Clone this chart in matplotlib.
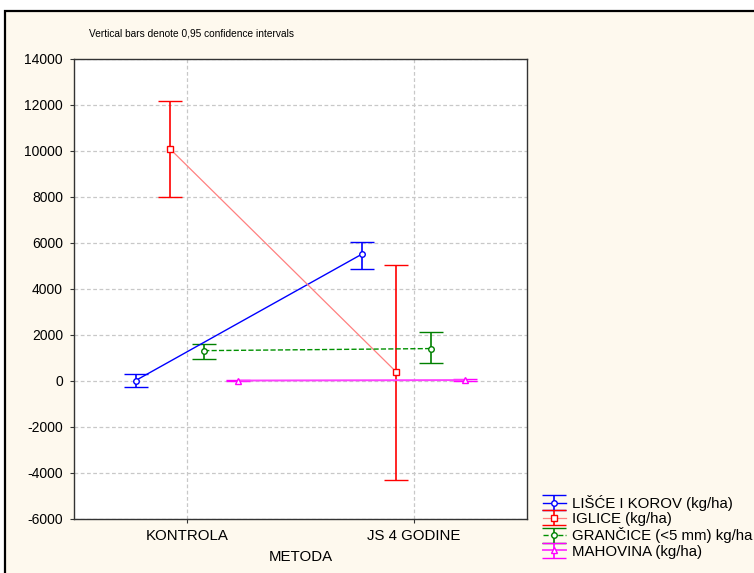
import numpy as np
import matplotlib
matplotlib.use("Agg")
import matplotlib.pyplot as plt
from matplotlib.patches import Rectangle

plt.rcParams['font.family'] = ['Liberation Sans', 'DejaVu Sans']

# ---------------- data ----------------
categories = ["KONTROLA", "JS 4 GODINE"]
series = ["LIŠĆE I KOROV (kg/ha)", "IGLICE (kg/ha)",
          "GRANČICE (<5 mm) kg/ha", "MAHOVINA (kg/ha)"]

lisce_mean = [20, 5520]
lisce_lo   = [-270, 4860]
lisce_hi   = [290, 6040]

iglice_mean = [10100, 390]
iglice_lo   = [8010, -4300]
iglice_hi   = [12190, 5060]

grancice_mean = [1320, 1410]
grancice_lo   = [970, 780]
grancice_hi   = [1600, 2130]

mahovina_mean = [20, 40]
mahovina_lo   = [-20, 0]
mahovina_hi   = [60, 80]

yticks = list(range(-6000, 14001, 2000))

# ---------------- styles ----------------
styles = [
    dict(color="#0000ff", line="#0000ff", ls="-",  marker="o", lw=1.0),
    dict(color="#ff0000", line="#ff8080", ls="-",  marker="s", lw=0.9),
    dict(color="#008000", line="#009000", ls="--", marker="o", lw=1.0),
    dict(color="#ff00ff", line="#ff40ff", ls="-",  marker="^", lw=1.4),
]
offsets = [-0.228, -0.077, 0.075, 0.226]
means = [lisce_mean, iglice_mean, grancice_mean, mahovina_mean]
los = [lisce_lo, iglice_lo, grancice_lo, mahovina_lo]
his = [lisce_hi, iglice_hi, grancice_hi, mahovina_hi]

fig = plt.figure(figsize=(7.54, 5.73), dpi=100)
fig.patch.set_facecolor("white")
W, H = 754, 573
frame = Rectangle((5 / W, -0.05), 1.1, 1.05 - 11 / H,
                  transform=fig.transFigure, facecolor="#fef9ee",
                  edgecolor="black", linewidth=1.6, zorder=-10)
fig.patches.append(frame)

ax = fig.add_axes([74 / W, 1 - 519 / H, (527 - 74) / W, (519 - 59) / H])
ax.set_zorder(1)
ax.set_facecolor("white")

xpos = np.arange(len(categories))
for name, st, off, m, lo, hi in zip(series, styles, offsets, means, los, his):
    m = np.array(m, dtype=float)
    yerr = [m - np.array(lo), np.array(hi) - m]
    ax.errorbar(xpos + off, m, yerr=yerr, color=st["line"], ecolor=st["color"],
                linestyle=st["ls"], linewidth=st["lw"], elinewidth=1.2,
                marker=st["marker"], markersize=4, markerfacecolor="white",
                markeredgecolor=st["color"], markeredgewidth=1.0,
                capsize=8.3, capthick=1.2, label=name, zorder=3)

ax.set_xlim(-0.5, 1.5)
ax.set_ylim(-6000, 14000)
ax.set_xticks(xpos)
ax.set_xticklabels(categories, fontsize=10.8)
ax.set_yticks(yticks)
ax.set_yticklabels([str(v) for v in yticks], fontsize=10)
ax.tick_params(axis="both", length=3, width=0.8, color="#333333", pad=5)
ax.tick_params(axis="x", pad=4)
ax.grid(True, color="#c8c8c8", linestyle=(0, (3, 2)), linewidth=0.9)
ax.set_axisbelow(True)
for s in ax.spines.values():
    s.set_color("#333333")
    s.set_linewidth(1.0)
ax.set_xlabel("METODA", fontsize=10.8, labelpad=5)

fig.text(89 / W, 1 - 33 / H, "Vertical bars denote 0,95 confidence intervals",
         fontsize=7.3, va="center", ha="left")

fig.legend(loc="upper left", bbox_to_anchor=(543 / W, 1 - 495 / H),
           frameon=False, fontsize=10.8, handlelength=1.5, handletextpad=0.4,
           labelspacing=0.08, borderpad=0, borderaxespad=0)

fig.savefig("out.png", dpi=100, facecolor=fig.get_facecolor())
